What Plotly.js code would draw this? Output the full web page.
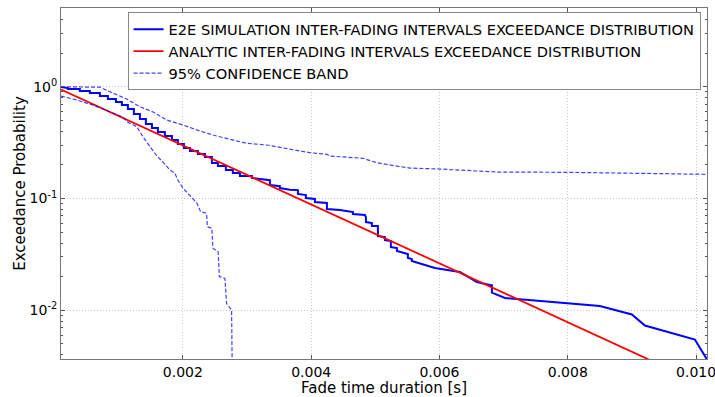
<!DOCTYPE html>
<html>
<head>
<meta charset="utf-8">
<script src="https://cdn.plot.ly/plotly-3.0.1.min.js"></script>
<style>html,body{margin:0;padding:0;background:#fff;}#chart{width:715px;height:397px;}</style>
</head>
<body>
<div id="chart"></div>
<script>
// E2E simulation exceedance (empirical, stepped)
const simX = [0.0001,0.000207,0.000207,0.000394,0.000394,0.000550,0.000550,0.000706,0.000706,0.000831,0.000831,0.000956,0.000956,0.001049,0.001049,0.001143,0.001143,0.001236,0.001236,0.001330,0.001330,0.001423,0.001423,0.001517,0.001517,0.001610,0.001610,0.001719,0.001719,0.001829,0.001829,0.001922,0.001922,0.002016,0.002016,0.002109,0.002109,0.002234,0.002234,0.002343,0.002343,0.002452,0.002452,0.002546,0.002546,0.002670,0.002670,0.002779,0.002779,0.002889,0.002889,0.003076,0.003076,0.003356,0.003356,0.003512,0.003512,0.003668,0.003793,0.003793,0.003917,0.003917,0.004058,0.004058,0.004245,0.004245,0.004447,0.004650,0.004650,0.004837,0.004853,0.004853,0.004946,0.004946,0.005040,0.005040,0.005149,0.005149,0.005242,0.005242,0.005337,0.005337,0.005507,0.005507,0.005568,0.005568,0.005928,0.006318,0.006474,0.006583,0.006801,0.006817,0.006817,0.007020,0.008500,0.008999,0.009202,0.009981,0.010200];
const simY = [0.994,0.974,0.954,0.954,0.915,0.915,0.878,0.878,0.826,0.826,0.776,0.776,0.730,0.730,0.686,0.686,0.632,0.632,0.570,0.570,0.514,0.514,0.464,0.464,0.427,0.427,0.393,0.393,0.362,0.362,0.334,0.334,0.307,0.307,0.283,0.283,0.266,0.266,0.250,0.250,0.235,0.235,0.208,0.208,0.195,0.195,0.180,0.180,0.169,0.169,0.159,0.159,0.153,0.146,0.132,0.129,0.124,0.120,0.119,0.110,0.1075,0.101,0.099,0.093,0.0912,0.0806,0.0789,0.0757,0.0727,0.0712,0.0683,0.0616,0.0604,0.0568,0.0568,0.0462,0.0452,0.0425,0.0417,0.0368,0.0361,0.0339,0.0319,0.0294,0.0288,0.0276,0.0239,0.0220,0.0195,0.0179,0.0168,0.0168,0.0144,0.0129,0.01093,0.00918,0.00731,0.00548,0.0034];

// Analytic exceedance
const anaX = [0.0001,0.002,0.004,0.006,0.008,0.010];
const anaY = [0.945,0.299,0.0891,0.0264,0.00784,0.00232];

// 95% confidence band, upper
const upX = [0.0001,0.000706,0.000862,0.001122,0.001330,0.001537,0.001746,0.002005,0.002265,0.002468,0.002733,0.002998,0.003309,0.003559,0.003980,0.004245,0.004292,0.004806,0.005024,0.005336,0.005539,0.006006,0.006786,0.006895,0.007986,0.008859,0.009124,0.010170];
const upY = [1.0,0.99,0.902,0.776,0.662,0.594,0.504,0.454,0.4015,0.370,0.3384,0.3117,0.301,0.283,0.257,0.2485,0.240,0.229,0.209,0.195,0.1874,0.1836,0.1762,0.1726,0.1715,0.1701,0.168,0.1646];

// 95% confidence band, lower
const loX = [0.0001,0.000348,0.000597,0.000862,0.001065,0.001127,0.001283,0.001376,0.001486,0.001595,0.001688,0.001797,0.001875,0.001922,0.002000,0.002109,0.002218,0.002276,0.002369,0.002382,0.002452,0.002468,0.002550,0.002569,0.002655,0.002681,0.002759,0.002768];
const loY = [0.826,0.760,0.686,0.598,0.536,0.486,0.4387,0.357,0.2948,0.240,0.2121,0.180,0.168,0.1464,0.124,0.1053,0.0912,0.0762,0.0737,0.0559,0.0541,0.0359,0.0334,0.0200,0.0193,0.01155,0.01006,0.0034];

const names = ['E2E SIMULATION INTER-FADING INTERVALS EXCEEDANCE DISTRIBUTION','ANALYTIC INTER-FADING INTERVALS EXCEEDANCE DISTRIBUTION','95% CONFIDENCE BAND'];
const xTicks = [0.002,0.004,0.006,0.008,0.010];
const xTickText = ['0.002','0.004','0.006','0.008','0.010'];
const yTicks = [0.01,0.1,1];
const yTickText = ['10<sup>-2</sup>','10<sup>-1</sup>','10<sup>0</sup>'];

const minorY = [];
[0.001,0.01,0.1,1].forEach(d=>{for(let k=2;k<=9;k++) minorY.push(d*k);});

const traces = [
  {x: simX, y: simY, mode:'lines', name: names[0], line:{color:'#0000ff', width:2}},
  {x: anaX, y: anaY, mode:'lines', name: names[1], line:{color:'#ff0000', width:1.8}},
  {x: upX, y: upY, mode:'lines', name: names[2], line:{color:'#0000ff', width:1.2, dash:'4px,2px'}, opacity:0.75},
  {x: loX, y: loY, mode:'lines', name: names[2], showlegend:false, line:{color:'#0000ff', width:1.2, dash:'4px,2px'}, opacity:0.75}
];

const font = {family:'DejaVu Sans, sans-serif', color:'#000'};
const layout = {
  width:715, height:397,
  margin:{l:61, r:8, t:8, b:38},
  paper_bgcolor:'#fff', plot_bgcolor:'#fff',
  font: Object.assign({size:14}, font),
  showlegend:true,
  legend:{x:0.99, xanchor:'right', y:0.988, yanchor:'top', bgcolor:'#fff', bordercolor:'#888', borderwidth:1, font:Object.assign({size:14.6}, font)},
  xaxis:{
    type:'linear', range:[0.0001,0.01017],
    tickvals:xTicks, ticktext:xTickText, ticklabeloverflow:'allow',
    ticks:'inside', ticklen:4, tickcolor:'#555',
    showgrid:true, gridcolor:'#c8c8c8', griddash:'1px,2px', gridwidth:1,
    showline:true, linecolor:'#777', linewidth:1, mirror:'ticks',
    zeroline:false,
    tickfont:{size:14},
    title:{text:'Fade time duration [s]', font:{size:15}, standoff:4}
  },
  yaxis:{
    type:'log', range:[Math.log10(0.00367), Math.log10(5.06)],
    tickvals:yTicks, ticktext:yTickText,
    ticks:'inside', ticklen:4, tickcolor:'#555',
    minor:{tickvals:minorY, ticks:'inside', ticklen:2, tickcolor:'#555', showgrid:false},
    showgrid:true, gridcolor:'#c8c8c8', griddash:'1px,2px', gridwidth:1,
    showline:true, linecolor:'#777', linewidth:1, mirror:'ticks',
    zeroline:false,
    tickfont:{size:14},
    title:{text:'Exceedance Probability', font:{size:15}, standoff:0}
  }
};
Plotly.newPlot('chart', traces, layout, {displayModeBar:false, staticPlot:true});
</script>
</body>
</html>
